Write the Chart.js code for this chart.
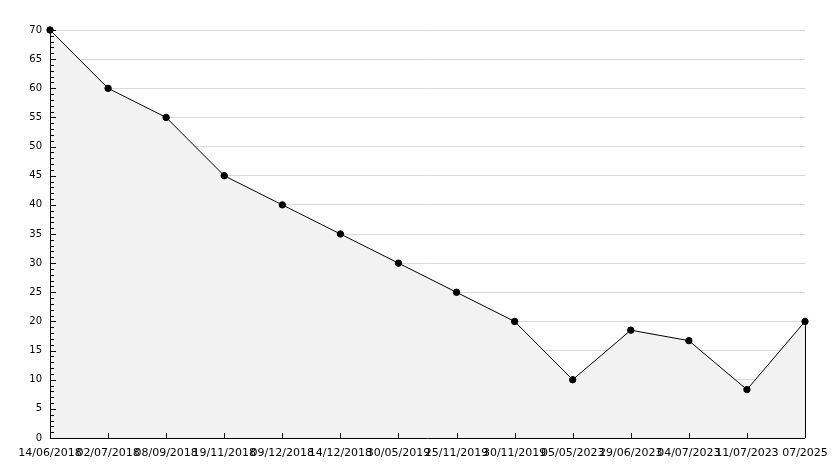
<!DOCTYPE html>
<html>
<head>
<meta charset="UTF-8">
<title>Chart</title>
<script src="https://cdn.jsdelivr.net/npm/chart.js"></script>
<style>
  html, body { margin: 0; padding: 0; background: #fff; }
  #wrap { width: 834px; height: 468px; }
</style>
</head>
<body>
<div id="wrap"><canvas id="chart" width="834" height="468"></canvas></div>
<script>
const categories = ['14/06/2018', '02/07/2018', '08/09/2018', '19/11/2018', '09/12/2018', '14/12/2018',
  '30/05/2019', '25/11/2019', '30/11/2019', '05/05/2023', '29/06/2023', '04/07/2023', '11/07/2023', '07/2025'];
const values = [70, 60, 55, 45, 40, 35, 30, 25, 20, 10, 18.5, 16.7, 8.3, 20];
const yMin = 0;
const yMax = 70;
const yStep = 5;
const yMinorStep = 1;

// axis lines and inward ticks, drawn from the chart's own scales
const axisPlugin = {
  id: 'axisPlugin',
  afterDatasetsDraw(chart) {
    const { ctx, chartArea: a, scales: { x, y } } = chart;
    ctx.save();
    ctx.strokeStyle = '#000';
    ctx.lineWidth = 1;
    ctx.beginPath();
    // right edge of the filled area
    const lastX = Math.round(x.getPixelForValue(categories.length - 1)) + 0.5;
    ctx.moveTo(lastX, y.getPixelForValue(values[values.length - 1]));
    ctx.lineTo(lastX, a.bottom);
    // axes
    ctx.moveTo(a.left + 0.5, a.top);
    ctx.lineTo(a.left + 0.5, a.bottom + 0.5);
    ctx.lineTo(a.right, a.bottom + 0.5);
    // y ticks
    for (let v = yMin; v <= yMax; v += yMinorStep) {
      const py = Math.round(y.getPixelForValue(v)) + 0.5;
      const len = v % yStep === 0 ? 6 : 4;
      ctx.moveTo(a.left, py);
      ctx.lineTo(a.left + len, py);
    }
    // x ticks
    for (let i = 1; i < categories.length; i++) {
      const px = Math.round(x.getPixelForValue(i)) + 0.5;
      ctx.moveTo(px, a.bottom);
      ctx.lineTo(px, a.bottom - 5);
    }
    ctx.stroke();
    ctx.restore();
  }
};

new Chart(document.getElementById('chart').getContext('2d'), {
  type: 'line',
  data: {
    labels: categories,
    datasets: [{
      data: values,
      borderColor: '#000',
      borderWidth: 1,
      backgroundColor: '#f2f2f2',
      fill: 'origin',
      tension: 0,
      clip: false,
      pointRadius: 3.2,
      pointStyle: 'circle',
      pointBackgroundColor: '#000',
      pointBorderColor: '#000',
      pointBorderWidth: 1
    }]
  },
  options: {
    responsive: false,
    animation: false,
    layout: { padding: { top: 30, right: 29, left: 0, bottom: 0 } },
    plugins: { legend: { display: false }, tooltip: { enabled: false } },
    scales: {
      x: {
        offset: false,
        grid: { display: false, drawTicks: false },
        border: { display: false },
        afterFit(scale) {
          scale.height = 30;
          scale.paddingLeft = 0;
          scale.paddingRight = 0;
        },
        ticks: {
          autoSkip: false,
          maxRotation: 0,
          minRotation: 0,
          color: '#000',
          padding: 9,
          font: { family: 'DejaVu Sans', size: 11 }
        }
      },
      y: {
        min: yMin,
        max: yMax,
        afterFit(scale) {
          scale.width = 50;
          scale.paddingTop = 0;
          scale.paddingBottom = 0;
        },
        border: { display: false },
        grid: {
          color: (c) => c.tick && c.tick.value === 0 ? 'rgba(0,0,0,0)' : '#d9d9d9',
          drawTicks: false
        },
        ticks: {
          stepSize: yStep,
          color: '#000',
          padding: 8,
          font: { family: 'DejaVu Sans', size: 10 }
        }
      }
    }
  },
  plugins: [axisPlugin]
});
</script>
</body>
</html>
